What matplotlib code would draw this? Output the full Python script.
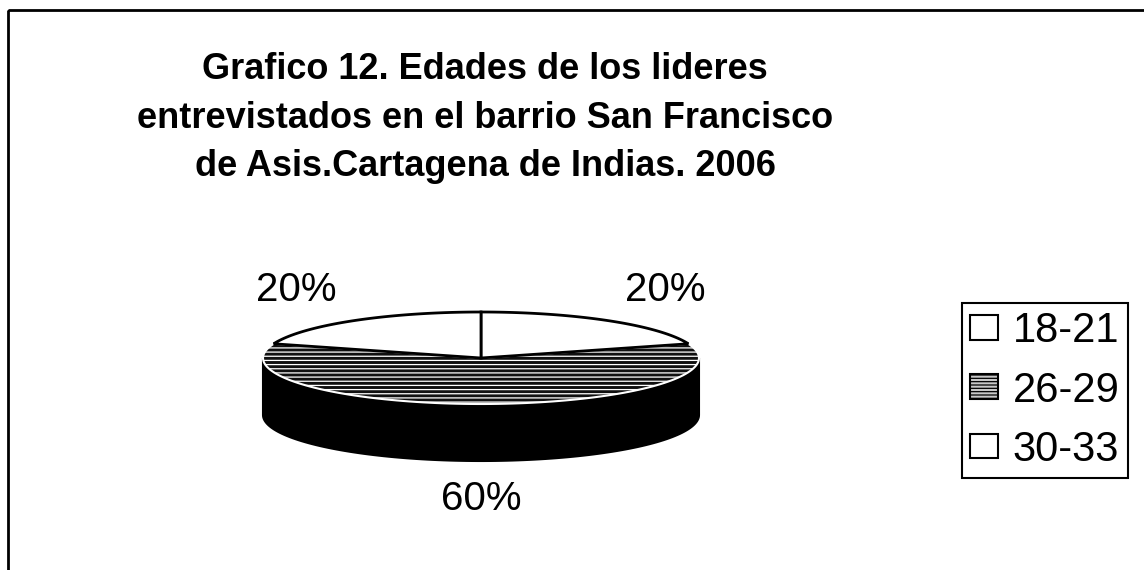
import numpy as np
import matplotlib
matplotlib.use('Agg')
import matplotlib.pyplot as plt
from matplotlib.patches import Polygon, Rectangle, Patch

plt.rcParams['font.family'] = ['Liberation Sans', 'DejaVu Sans']
plt.rcParams['hatch.linewidth'] = 0.9

# ---- data ----
categories = ['18-21', '26-29', '30-33']
values = [20, 60, 20]
pct_labels = ['20%', '60%', '20%']
title_lines = ['Grafico 12. Edades de los lideres',
               'entrevistados en el barrio San Francisco',
               'de Asis.Cartagena de Indias. 2006']

# ---- styles ----
top_colors = ['white', '#101010', 'white']
top_edges = ['black', 'white', 'black']
top_hatch = [None, '----', None]
side_colors = ['#d9d9d9', 'black', '#d9d9d9']
legend_faces = ['white', '#c8c8c8', 'white']
legend_hatch = [None, '-----', None]

W, H = 1144, 570
fig = plt.figure(figsize=(W / 100, H / 100), dpi=100)
ax = fig.add_axes([0, 0, 1, 1])
ax.set_xlim(0, W)
ax.set_ylim(H, 0)
ax.axis('off')

# outer chart frame
ax.add_patch(Rectangle((8, 10), W, H, fill=False, lw=2, edgecolor='black'))

# 3D pie geometry (pixels)
cx, cy, rx, ry, depth = 481, 358, 218, 46, 57


def arc(a0, a1, dy=0.0, n=120):
    t = np.radians(np.linspace(a0, a1, n))
    return np.column_stack([cx + rx * np.sin(t), cy - ry * np.cos(t) + dy])


total = float(sum(values))
bounds = np.concatenate([[0], np.cumsum(values)]) / total * 360.0

# side walls (front visible part: 90..270 deg, clockwise from top)
for i in range(len(values)):
    lo, hi = max(bounds[i], 90), min(bounds[i + 1], 270)
    if hi > lo:
        top = arc(lo, hi)
        bot = arc(hi, lo, dy=depth)
        ax.add_patch(Polygon(np.vstack([top, bot]), closed=True,
                             facecolor=side_colors[i], edgecolor='black', lw=1.5))

# top faces: hatched first, then white ones (their black edges on top)
order = sorted(range(len(values)), key=lambda k: top_colors[k] == 'white')
for i in order:
    pts = np.vstack([[cx, cy], arc(bounds[i], bounds[i + 1])])
    ax.add_patch(Polygon(pts, closed=True, facecolor=top_colors[i],
                         edgecolor=top_edges[i], hatch=top_hatch[i],
                         lw=2 if top_edges[i] == 'black' else 1.5))

# percentage labels
lx, ly = 314, 84
for i, lab in enumerate(pct_labels):
    mid = np.radians((bounds[i] + bounds[i + 1]) / 2)
    x = cx + lx * np.sin(mid)
    y = cy - ly * np.cos(mid) + (depth if np.cos(mid) < 0 else 0)
    ax.text(x, y, lab, ha='center', va='center', fontsize=29)

# title
ax.text(485, 118, '\n'.join(title_lines), ha='center', va='center',
        fontsize=26, fontweight='bold', linespacing=1.5)

# legend
handles = [Patch(facecolor=legend_faces[i], edgecolor='black', hatch=legend_hatch[i], lw=1.5)
           for i in range(len(categories))]
leg = fig.legend(handles, categories, loc='upper left',
                 bbox_to_anchor=(962 / W, 1 - 303 / H), fontsize=30,
                 frameon=True, fancybox=False, edgecolor='black', framealpha=1,
                 handlelength=0.67, handleheight=0.53, handletextpad=0.35,
                 labelspacing=0.46, borderpad=0.2, borderaxespad=0)
leg.get_frame().set_linewidth(1.5)

fig.savefig('out.png', dpi=100, facecolor='white')
